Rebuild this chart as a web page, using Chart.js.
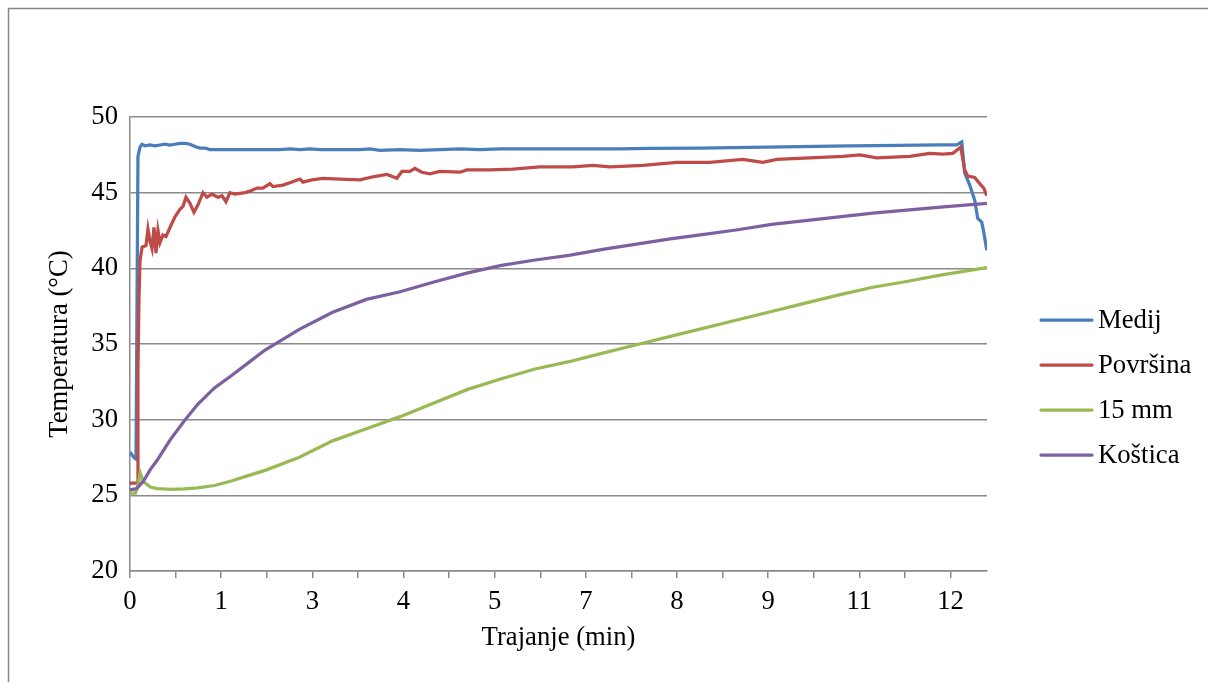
<!DOCTYPE html>
<html>
<head>
<meta charset="utf-8">
<script src="https://cdn.jsdelivr.net/npm/chart.js@4.4.1/dist/chart.umd.min.js"></script>
<style>
  html, body { margin: 0; padding: 0; background: #fff; }
</style>
</head>
<body>
<canvas id="chart" width="1208" height="682"></canvas>
<script>
// times in minutes, temperatures in °C
const seriesNames = ["Medij", "Površina", "15 mm", "Koštica"];
const seriesColors = ["#4a7ebb", "#be4b48", "#98b954", "#7d60a0"];

const medijTime = [0, 0.059, 0.089, 0.118, 0.148, 0.178, 0.222, 0.296, 0.370, 0.444, 0.518, 0.592, 0.666, 0.740, 0.814, 0.888, 0.962, 1.036, 1.110, 1.184, 1.332, 1.628, 1.924, 2.220, 2.368, 2.517, 2.665, 2.813, 3.109, 3.405, 3.553, 3.701, 3.997, 4.293, 4.589, 4.885, 5.181, 5.477, 5.773, 6.069, 6.365, 6.661, 6.957, 7.253, 7.698, 8.438, 9.178, 9.918, 10.658, 11.398, 11.990, 12.242, 12.316, 12.360, 12.434, 12.508, 12.553, 12.612, 12.642, 12.686];
const medijTemp = [27.85, 27.5, 27.4, 47.4, 48.0, 48.2, 48.1, 48.15, 48.1, 48.15, 48.2, 48.15, 48.2, 48.25, 48.25, 48.2, 48.05, 47.95, 47.95, 47.85, 47.85, 47.85, 47.85, 47.85, 47.9, 47.85, 47.9, 47.85, 47.85, 47.85, 47.9, 47.8, 47.85, 47.8, 47.85, 47.9, 47.85, 47.9, 47.9, 47.9, 47.9, 47.9, 47.9, 47.9, 47.92, 47.95, 48.0, 48.05, 48.1, 48.12, 48.15, 48.15, 48.35, 46.3, 45.5, 44.5, 43.3, 43.05, 42.4, 41.2];

const povrsinaTime = [0, 0.104, 0.118, 0.133, 0.148, 0.178, 0.237, 0.266, 0.296, 0.326, 0.355, 0.385, 0.414, 0.444, 0.488, 0.533, 0.592, 0.666, 0.740, 0.785, 0.829, 0.888, 0.947, 1.007, 1.081, 1.140, 1.214, 1.303, 1.362, 1.421, 1.480, 1.554, 1.628, 1.702, 1.776, 1.880, 1.969, 2.072, 2.117, 2.265, 2.398, 2.517, 2.561, 2.694, 2.857, 3.109, 3.405, 3.597, 3.804, 3.952, 4.026, 4.145, 4.219, 4.322, 4.441, 4.589, 4.885, 4.989, 5.329, 5.670, 6.069, 6.558, 6.854, 7.105, 7.594, 8.097, 8.586, 9.074, 9.370, 9.578, 10.066, 10.555, 10.806, 11.058, 11.546, 11.842, 12.035, 12.183, 12.257, 12.301, 12.360, 12.405, 12.508, 12.582, 12.642, 12.686];
const povrsinaTemp = [25.8, 25.8, 33.5, 38.0, 40.5, 41.4, 41.5, 42.6, 41.8, 41.3, 42.7, 41.0, 42.5, 41.7, 42.2, 42.1, 42.7, 43.4, 43.9, 44.1, 44.7, 44.3, 43.7, 44.2, 45.0, 44.7, 44.9, 44.7, 44.8, 44.4, 45.0, 44.9, 44.95, 45.0, 45.1, 45.3, 45.3, 45.6, 45.4, 45.5, 45.7, 45.9, 45.7, 45.85, 45.95, 45.9, 45.85, 46.05, 46.2, 45.95, 46.4, 46.4, 46.6, 46.35, 46.25, 46.4, 46.35, 46.5, 46.5, 46.55, 46.7, 46.7, 46.8, 46.7, 46.8, 47.0, 47.0, 47.2, 47.0, 47.2, 47.3, 47.4, 47.5, 47.3, 47.4, 47.6, 47.55, 47.6, 47.85, 48.0, 46.5, 46.1, 46.0, 45.6, 45.3, 44.8];

const mm15Time = [0, 0.08, 0.12, 0.15, 0.2, 0.3, 0.4, 0.5, 0.6, 0.8, 1.0, 1.25, 1.5, 1.75, 2, 2.5, 3, 3.5, 4, 4.5, 5, 5.5, 6, 6.5, 7, 7.5, 8, 8.5, 9, 9.5, 10, 10.5, 11, 11.5, 12, 12.69];
const mm15Temp = [25.15, 25.15, 25.7, 26.5, 25.9, 25.55, 25.45, 25.42, 25.4, 25.42, 25.5, 25.65, 25.95, 26.3, 26.65, 27.5, 28.6, 29.4, 30.2, 31.1, 32.0, 32.7, 33.35, 33.83, 34.4, 34.95, 35.5, 36.05, 36.6, 37.15, 37.7, 38.25, 38.75, 39.13, 39.55, 40.05];

const kosticaTime = [0, 0.1, 0.2, 0.3, 0.4, 0.5, 0.6, 0.8, 1.0, 1.25, 1.5, 1.75, 2, 2.5, 3, 3.5, 4, 4.5, 5, 5.5, 6, 6.5, 7, 7.5, 8, 8.5, 9, 9.5, 10, 10.5, 11, 11.5, 12, 12.69];
const kosticaTemp = [25.35, 25.45, 25.95, 26.7, 27.3, 28.0, 28.7, 29.9, 31.0, 32.1, 32.9, 33.75, 34.6, 35.95, 37.1, 37.95, 38.45, 39.1, 39.7, 40.2, 40.55, 40.85, 41.25, 41.6, 41.95, 42.25, 42.55, 42.9, 43.15, 43.4, 43.65, 43.85, 44.05, 44.3];

// category labels as they appear under the axis (rounded minutes)
const xTickLabels = ["0", "1", "3", "4", "5", "7", "8", "9", "11", "12"];
const xTickStep = 1.35;
const xMax = 12.69;
const yTicks = [20, 25, 30, 35, 40, 45, 50];

const FONT = "'Liberation Serif', 'Times New Roman', serif";
const FSIZE = 26.7;
const GRID = "#8a8a8a";

function toPoints(times, temps) {
  return times.map((t, i) => ({ x: t, y: temps[i] }));
}

const allSeries = [
  toPoints(medijTime, medijTemp),
  toPoints(povrsinaTime, povrsinaTemp),
  toPoints(mm15Time, mm15Temp),
  toPoints(kosticaTime, kosticaTemp),
];

const datasets = allSeries.map((pts, i) => ({
  label: seriesNames[i],
  data: pts,
  borderColor: seriesColors[i],
  backgroundColor: seriesColors[i],
  borderWidth: 3.25,
  pointRadius: 0,
  tension: 0,
  order: seriesNames.length - i,
}));

const frame = {
  id: "frame",
  beforeDraw(chart) {
    const ctx = chart.ctx;
    ctx.save();
    ctx.fillStyle = "#fff";
    ctx.fillRect(0, 0, chart.width, chart.height);
    ctx.strokeStyle = "#868686";
    ctx.lineWidth = 1.5;
    ctx.strokeRect(8.5, 8.5, chart.width + 50, chart.height + 50);
    ctx.restore();
  },
  afterDraw(chart) {
    // legend on the right
    const ctx = chart.ctx;
    ctx.save();
    ctx.font = FSIZE + "px " + FONT;
    ctx.textBaseline = "middle";
    ctx.fillStyle = "#000";
    seriesNames.forEach((name, i) => {
      const y = 320 + i * 45;
      ctx.strokeStyle = seriesColors[i];
      ctx.lineWidth = 3.25;
      ctx.lineCap = "round";
      ctx.beginPath();
      ctx.moveTo(1041, y);
      ctx.lineTo(1092, y);
      ctx.stroke();
      ctx.fillText(name, 1098, y + 1);
    });
    ctx.restore();
  },
};

new Chart(document.getElementById("chart"), {
  type: "line",
  data: { datasets },
  plugins: [frame],
  options: {
    responsive: false,
    animation: false,
    layout: { padding: { top: 117, right: 221, bottom: 0, left: 0 } },
    plugins: { legend: { display: false }, tooltip: { enabled: false } },
    scales: {
      x: {
        type: "linear",
        min: 0,
        max: xMax,
        afterFit(scale) { scale.height = 111; },
        afterBuildTicks(scale) {
          const ticks = [];
          for (let k = 0; k < xTickLabels.length * 2; k++) {
            const v = k * xTickStep / 2;
            if (v <= xMax) ticks.push({ value: v });
          }
          scale.ticks = ticks;
        },
        ticks: {
          autoSkip: false,
          maxRotation: 0,
          padding: 8,
          color: "#000",
          font: { family: FONT, size: FSIZE },
          callback: (v, i) => (i % 2 === 0 ? xTickLabels[i / 2] : ""),
        },
        grid: { drawOnChartArea: false, drawTicks: true, tickLength: 7, color: GRID, lineWidth: 1.5 },
        border: { display: true, color: GRID, width: 1.5 },
        title: {
          display: true,
          text: "Trajanje (min)",
          color: "#000",
          font: { family: FONT, size: FSIZE },
          padding: { top: 0, bottom: 28 },
        },
      },
      y: {
        min: 20,
        max: 50,
        afterFit(scale) { scale.width = 130; },
        afterBuildTicks(scale) { scale.ticks = yTicks.map((v) => ({ value: v })); },
        ticks: { padding: 12, color: "#000", font: { family: FONT, size: FSIZE } },
        grid: { color: GRID, lineWidth: 1.5, drawTicks: false },
        border: { display: true, color: GRID, width: 1.5 },
        title: {
          display: true,
          text: "Temperatura (°C)",
          color: "#000",
          font: { family: FONT, size: FSIZE },
          padding: { top: 44, bottom: 0 },
        },
      },
    },
  },
});
</script>
</body>
</html>
